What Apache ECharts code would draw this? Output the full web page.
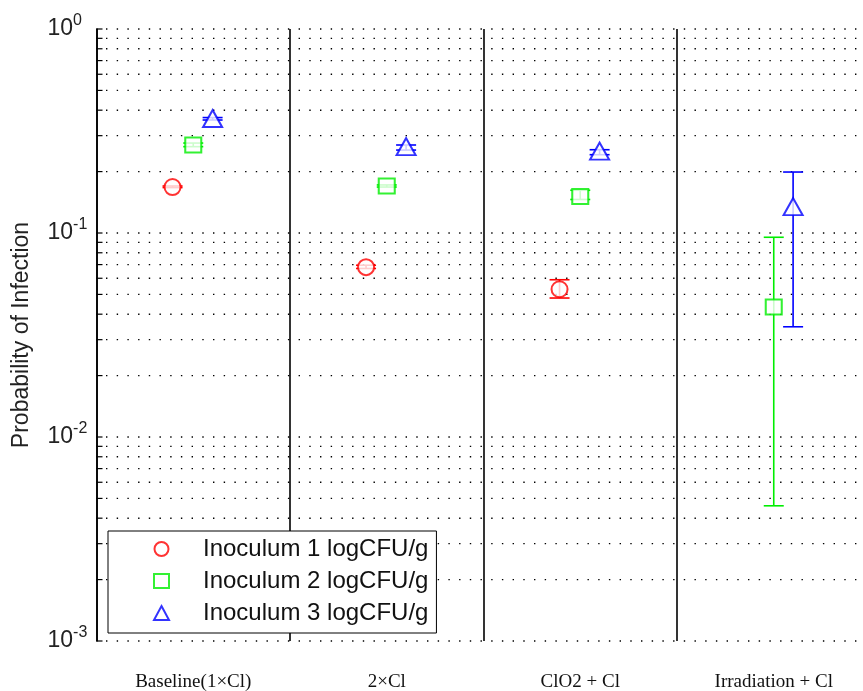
<!DOCTYPE html>
<html>
<head>
<meta charset="utf-8">
<script src="https://cdn.jsdelivr.net/npm/echarts@6/dist/echarts.min.js"></script>
<style>
  html, body { margin: 0; padding: 0; background: #fff; }
  #chart { width: 863px; height: 691px; }
</style>
</head>
<body>
<div id="chart"></div>
<script>
// Treatment scenarios along the x axis
const categories = ['Baseline(1\u00d7Cl)', '2\u00d7Cl', 'ClO2 + Cl', 'Irradiation + Cl'];
const seriesNames = ['Inoculum 1 logCFU/g', 'Inoculum 2 logCFU/g', 'Inoculum 3 logCFU/g'];

// Probability of infection (point estimate, lower and upper bound) per scenario
const inoc1 = [0.168, 0.068, 0.053, null];
const inoc1Low = [0.167, 0.067, 0.048, null];
const inoc1High = [0.170, 0.0695, 0.059, null];

const inoc2 = [0.270, 0.170, 0.151, 0.0434];
const inoc2Low = [0.265, 0.168, 0.146, 0.0046];
const inoc2High = [0.276, 0.172, 0.162, 0.0953];

const inoc3 = [0.364, 0.265, 0.252, 0.1346];
const inoc3Low = [0.358, 0.255, 0.242, 0.0347];
const inoc3High = [0.368, 0.270, 0.256, 0.199];

// Decade exponents shown on the log axis
const yExponents = [-3, -2, -1, 0];

const chart = echarts.init(document.getElementById('chart'));

const colors = ['#ff0000', '#00ee00', '#0000ff'];
const symbols = ['emptyCircle', 'emptyRect', 'emptyTriangle'];
const symbolSizes = [16, [16, 15], [19, 17]];
const dodge = [-0.107, 0, 0.1];
const values = [inoc1, inoc2, inoc3];
const lows = [inoc1Low, inoc2Low, inoc3Low];
const highs = [inoc1High, inoc2High, inoc3High];

// Dotted grid levels: every 1..9 multiple inside each decade, plus the top
const gridLevels = [];
for (let i = 0; i < yExponents.length - 1; i++) {
  const base = Math.pow(10, yExponents[i]);
  for (let m = 1; m <= 9; m++) gridLevels.push([0.5, +(m * base).toPrecision(3)]);
}
gridLevels.push([0.5, Math.pow(10, yExponents[yExponents.length - 1])]);

const xMin = 0.5, xMax = categories.length + 0.5;

const series = [];

// Dotted horizontal grid and the inward ticks on the left axis
series.push({
  type: 'custom',
  xAxisIndex: 0,
  yAxisIndex: 0,
  z: 1,
  silent: true,
  data: gridLevels,
  encode: { x: 0, y: 1 },
  renderItem: function (params, api) {
    const v = api.value(1);
    const p0 = api.coord([xMin, v]);
    const p1 = api.coord([xMax, v]);
    return {
      type: 'group',
      children: [
        {
          type: 'line',
          shape: { x1: p0[0], y1: p0[1], x2: p1[0], y2: p1[1] },
          style: { stroke: '#000', lineWidth: 1.4, lineDash: [1.4, 9.3], lineDashOffset: 1.2 }
        },
        {
          type: 'line',
          shape: { x1: p0[0], y1: p0[1], x2: p0[0] + 6, y2: p0[1] },
          style: { stroke: '#000', lineWidth: 1.2 }
        }
      ]
    };
  }
});

// Error bars with caps
values.forEach(function (vals, s) {
  const data = [];
  vals.forEach(function (v, i) {
    if (v == null) return;
    data.push([i + 1 + dodge[s], lows[s][i], highs[s][i]]);
  });
  series.push({
    type: 'custom',
    xAxisIndex: 0,
    yAxisIndex: 0,
    z: 3,
    silent: true,
    data: data,
    encode: { x: 0, y: [1, 2] },
    renderItem: function (params, api) {
      const x = api.value(0);
      const pLo = api.coord([x, api.value(1)]);
      const pHi = api.coord([x, api.value(2)]);
      const cap = 10;
      const st = { stroke: colors[s], lineWidth: 1.6 };
      return {
        type: 'group',
        children: [
          { type: 'line', shape: { x1: pLo[0], y1: pLo[1], x2: pHi[0], y2: pHi[1] }, style: st },
          { type: 'line', shape: { x1: pLo[0] - cap, y1: pLo[1], x2: pLo[0] + cap, y2: pLo[1] }, style: st },
          { type: 'line', shape: { x1: pHi[0] - cap, y1: pHi[1], x2: pHi[0] + cap, y2: pHi[1] }, style: st }
        ]
      };
    }
  });
});

// Point estimates
values.forEach(function (vals, s) {
  const data = [];
  vals.forEach(function (v, i) {
    if (v == null) return;
    data.push([i + 1 + dodge[s], v]);
  });
  series.push({
    name: seriesNames[s],
    type: 'scatter',
    xAxisIndex: 0,
    yAxisIndex: 0,
    z: 4,
    symbol: symbols[s],
    symbolSize: symbolSizes[s],
    itemStyle: { color: colors[s], borderColor: colors[s], borderWidth: 1.7 },
    data: data
  });
});

const option = {
  animation: false,
  backgroundColor: '#fff',
  grid: { left: 96.5, top: 29, width: 774, height: 612, containLabel: false, outerBoundsMode: 'none' },
  legend: {
    data: seriesNames,
    orient: 'vertical',
    left: 108,
    top: 531,
    backgroundColor: '#fff',
    borderColor: '#000',
    borderWidth: 1,
    borderRadius: 0,
    padding: [6, 8, 8, 45],
    itemWidth: 15,
    itemHeight: 14,
    itemGap: 8,
    selectedMode: false,
    textStyle: {
      fontFamily: 'Liberation Sans, Arial, sans-serif',
      fontSize: 24,
      lineHeight: 24,
      color: '#111',
      padding: [0, 0, 0, 29]
    }
  },
  xAxis: [
    {
      type: 'value',
      min: xMin,
      max: xMax,
      show: false
    },
    {
      type: 'category',
      data: categories,
      position: 'bottom',
      boundaryGap: true,
      axisLine: { show: false },
      axisTick: { show: false },
      axisLabel: {
        interval: 0,
        margin: 32,
        fontFamily: 'Liberation Serif, Times New Roman, serif',
        fontSize: 19,
        color: '#111'
      },
      splitLine: { show: true, interval: 0, lineStyle: { color: '#000', width: 1.6 } }
    }
  ],
  yAxis: {
    type: 'log',
    logBase: 10,
    min: Math.pow(10, yExponents[0]),
    max: Math.pow(10, yExponents[yExponents.length - 1]),
    name: 'Probability of Infection',
    nameLocation: 'middle',
    nameGap: 63,
    nameRotate: 90,
    nameTextStyle: {
      fontFamily: 'Liberation Sans, Arial, sans-serif',
      fontSize: 23,
      color: '#222'
    },
    axisLine: { show: true, lineStyle: { color: '#000', width: 1.6 } },
    axisTick: { show: false },
    splitLine: { show: false },
    minorTick: { show: false },
    axisLabel: {
      margin: 49,
      align: 'left',
      formatter: function (value) {
        const e = Math.round(Math.log10(value));
        return '{b|10}{s|' + e + '}';
      },
      rich: {
        b: { fontFamily: 'Liberation Sans, Arial, sans-serif', fontSize: 23, lineHeight: 32, color: '#222' },
        s: { fontFamily: 'Liberation Sans, Arial, sans-serif', fontSize: 16, lineHeight: 17, verticalAlign: 'top', color: '#222' }
      }
    }
  },
  series: series
};

chart.setOption(option);
</script>
</body>
</html>
